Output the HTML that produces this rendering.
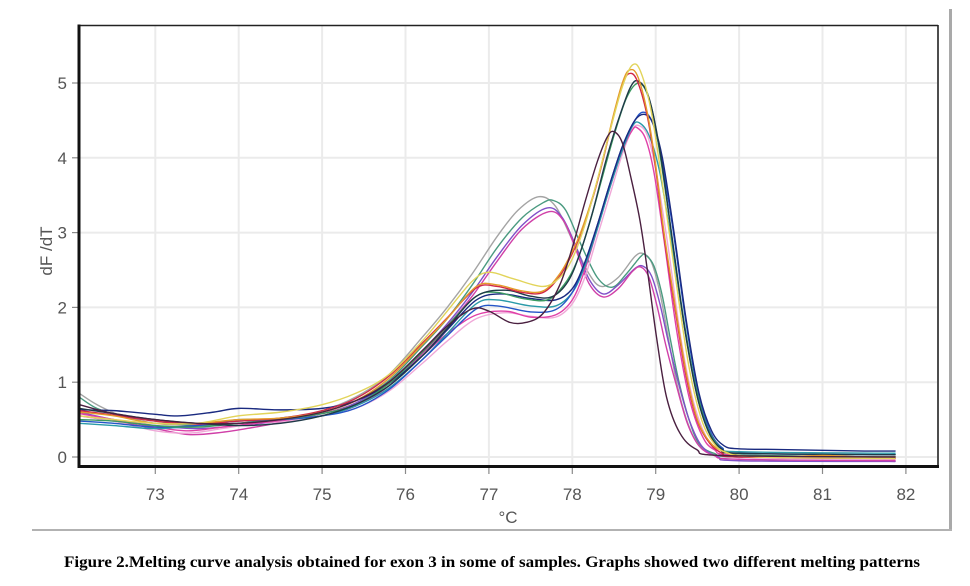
<!DOCTYPE html>
<html>
<head>
<meta charset="utf-8">
<style>
html,body{margin:0;padding:0;background:#fff;}
svg{display:block;}
</style>
</head>
<body>
<svg id="chart" width="970" height="586" viewBox="0 0 970 586" xmlns="http://www.w3.org/2000/svg">
<rect x="0" y="0" width="970" height="586" fill="#fff"/>
<!-- outer panel lines -->
<rect x="949" y="9" width="3" height="522" fill="#a9a9a9"/>
<rect x="32" y="529" width="920" height="2" fill="#b2b2b2"/>
<!-- grid -->
<g stroke="#ebebeb" stroke-width="2" fill="none">
<line x1="155.3" y1="26" x2="155.3" y2="465"/>
<line x1="238.7" y1="26" x2="238.7" y2="465"/>
<line x1="322.1" y1="26" x2="322.1" y2="465"/>
<line x1="405.5" y1="26" x2="405.5" y2="465"/>
<line x1="488.9" y1="26" x2="488.9" y2="465"/>
<line x1="572.3" y1="26" x2="572.3" y2="465"/>
<line x1="655.7" y1="26" x2="655.7" y2="465"/>
<line x1="739.1" y1="26" x2="739.1" y2="465"/>
<line x1="822.5" y1="26" x2="822.5" y2="465"/>
<line x1="905.9" y1="26" x2="905.9" y2="465"/>
<line x1="80" y1="83" x2="937" y2="83"/>
<line x1="80" y1="157.8" x2="937" y2="157.8"/>
<line x1="80" y1="232.6" x2="937" y2="232.6"/>
<line x1="80" y1="307.4" x2="937" y2="307.4"/>
<line x1="80" y1="382.2" x2="937" y2="382.2"/>
<line x1="80" y1="457" x2="937" y2="457"/>
</g>
<!-- ticks -->
<g stroke="#8a8a8a" stroke-width="1.2">
<line x1="72" y1="83" x2="78" y2="83"/>
<line x1="72" y1="157.8" x2="78" y2="157.8"/>
<line x1="72" y1="232.6" x2="78" y2="232.6"/>
<line x1="72" y1="307.4" x2="78" y2="307.4"/>
<line x1="72" y1="382.2" x2="78" y2="382.2"/>
<line x1="72" y1="457" x2="78" y2="457"/>
<line x1="155.3" y1="468" x2="155.3" y2="474"/>
<line x1="238.7" y1="468" x2="238.7" y2="474"/>
<line x1="322.1" y1="468" x2="322.1" y2="474"/>
<line x1="405.5" y1="468" x2="405.5" y2="474"/>
<line x1="488.9" y1="468" x2="488.9" y2="474"/>
<line x1="572.3" y1="468" x2="572.3" y2="474"/>
<line x1="655.7" y1="468" x2="655.7" y2="474"/>
<line x1="739.1" y1="468" x2="739.1" y2="474"/>
<line x1="822.5" y1="468" x2="822.5" y2="474"/>
<line x1="905.9" y1="468" x2="905.9" y2="474"/>
</g>
<g id="curves" fill="none" stroke-width="1.4" stroke-linejoin="round" stroke-linecap="round"></g>
<!-- frame -->
<line x1="79" y1="25.5" x2="938" y2="25.5" stroke="#222" stroke-width="1.6"/>
<line x1="938" y1="25" x2="938" y2="467" stroke="#222" stroke-width="1.6"/>
<line x1="79" y1="24.5" x2="79" y2="468" stroke="#111" stroke-width="3"/>
<line x1="77.5" y1="466.5" x2="939" y2="466.5" stroke="#111" stroke-width="3"/>
<!-- labels -->
<g font-family="Liberation Sans, Arial, sans-serif" font-size="17" fill="#555">
<text x="67" y="89" text-anchor="end">5</text>
<text x="67" y="163.8" text-anchor="end">4</text>
<text x="67" y="238.6" text-anchor="end">3</text>
<text x="67" y="313.4" text-anchor="end">2</text>
<text x="67" y="388.2" text-anchor="end">1</text>
<text x="67" y="463" text-anchor="end">0</text>
<text x="155.3" y="500" text-anchor="middle">73</text>
<text x="238.7" y="500" text-anchor="middle">74</text>
<text x="322.1" y="500" text-anchor="middle">75</text>
<text x="405.5" y="500" text-anchor="middle">76</text>
<text x="488.9" y="500" text-anchor="middle">77</text>
<text x="572.3" y="500" text-anchor="middle">78</text>
<text x="655.7" y="500" text-anchor="middle">79</text>
<text x="739.1" y="500" text-anchor="middle">80</text>
<text x="822.5" y="500" text-anchor="middle">81</text>
<text x="905.9" y="500" text-anchor="middle">82</text>
<text x="508" y="523" text-anchor="middle">°C</text>
<text x="0" y="0" text-anchor="middle" transform="translate(52,251) rotate(-90)">dF /dT</text>
</g>
<text x="64" y="567" font-family="Liberation Serif, 'Times New Roman', serif" font-weight="bold" font-size="16" fill="#000" textLength="856" lengthAdjust="spacingAndGlyphs">Figure 2.Melting curve analysis obtained for exon 3 in some of samples. Graphs showed two different melting patterns</text>
</svg>
<script>
(function(){
function X(t){return 155.3+(t-73)*83.4;}
function Y(v){return 457-74.8*v;}
var curves=[
// group B (double peak)
["#a4a4a4",[[72.09,0.85],[72.3,0.7],[72.6,0.55],[73,0.45],[73.5,0.42],[74,0.45],[74.5,0.5],[75,0.62],[75.4,0.8],[75.8,1.1],[76.2,1.6],[76.5,2.0],[76.8,2.45],[77.1,2.95],[77.35,3.3],[77.6,3.48],[77.8,3.35],[78.0,2.9],[78.2,2.45],[78.35,2.28],[78.55,2.4],[78.75,2.68],[78.85,2.72],[78.95,2.6],[79.05,2.2],[79.15,1.6],[79.25,1.0],[79.37,0.5],[79.5,0.18],[79.65,0.06],[80,0.0],[81.87,-0.02]]],
["#4a9a80",[[72.09,0.8],[72.3,0.65],[72.6,0.55],[73,0.48],[73.5,0.42],[74,0.45],[74.5,0.52],[75,0.6],[75.4,0.75],[75.8,1.02],[76.2,1.48],[76.5,1.85],[76.8,2.3],[77.1,2.8],[77.4,3.2],[77.65,3.4],[77.77,3.43],[77.92,3.3],[78.1,2.85],[78.3,2.4],[78.48,2.27],[78.65,2.45],[78.82,2.68],[78.88,2.7],[78.98,2.55],[79.08,2.15],[79.18,1.55],[79.28,1.0],[79.4,0.5],[79.52,0.18],[79.7,0.05],[80,0.0],[81.87,0.0]]],
["#8050c8",[[72.09,0.6],[72.5,0.5],[73,0.42],[73.5,0.38],[74,0.42],[74.5,0.48],[75,0.58],[75.4,0.72],[75.8,1.0],[76.2,1.42],[76.5,1.78],[76.8,2.2],[77.1,2.68],[77.4,3.1],[77.7,3.33],[77.88,3.2],[78.05,2.8],[78.2,2.38],[78.37,2.18],[78.55,2.3],[78.75,2.52],[78.85,2.55],[78.95,2.42],[79.05,2.05],[79.15,1.55],[79.27,1.0],[79.4,0.5],[79.55,0.15],[79.75,0.0],[80,-0.05],[81.87,-0.06]]],
["#d040a8",[[72.09,0.55],[72.5,0.48],[73,0.38],[73.4,0.3],[73.8,0.33],[74.2,0.4],[74.6,0.48],[75,0.55],[75.4,0.68],[75.8,0.95],[76.2,1.38],[76.5,1.75],[76.8,2.15],[77.1,2.62],[77.4,3.05],[77.72,3.28],[77.9,3.15],[78.05,2.75],[78.2,2.32],[78.37,2.14],[78.55,2.25],[78.72,2.48],[78.82,2.54],[78.92,2.4],[79.02,2.0],[79.12,1.5],[79.25,0.95],[79.38,0.45],[79.52,0.15],[79.7,0.02],[80,-0.03],[81.87,-0.05]]],
// group A
["#f0a8d8",[[72.09,0.55],[72.5,0.48],[73,0.35],[73.4,0.32],[73.8,0.38],[74.2,0.45],[74.6,0.48],[75,0.55],[75.4,0.65],[75.8,0.88],[76.2,1.25],[76.5,1.55],[76.85,1.85],[77.2,1.93],[77.5,1.88],[77.8,1.87],[78.0,2.05],[78.15,2.4],[78.3,2.95],[78.45,3.5],[78.6,4.05],[78.72,4.38],[78.8,4.43],[78.9,4.3],[79.0,3.85],[79.15,2.8],[79.3,1.6],[79.45,0.75],[79.6,0.28],[79.75,0.08],[80,0.0],[81.87,-0.03]]],
["#e040a8",[[72.09,0.58],[72.5,0.5],[73,0.4],[73.4,0.35],[73.8,0.4],[74.2,0.45],[74.6,0.5],[75,0.58],[75.4,0.7],[75.8,0.95],[76.2,1.35],[76.5,1.65],[76.85,1.9],[77.2,1.95],[77.5,1.87],[77.8,1.9],[78.0,2.1],[78.15,2.5],[78.3,3.05],[78.45,3.6],[78.6,4.1],[78.72,4.37],[78.78,4.4],[78.88,4.25],[78.98,3.8],[79.1,2.9],[79.25,1.7],[79.4,0.8],[79.55,0.3],[79.7,0.1],[80,0.02],[81.87,-0.02]]],
["#2a9aa8",[[72.09,0.45],[72.5,0.42],[73,0.38],[73.5,0.42],[74,0.5],[74.5,0.5],[75,0.55],[75.4,0.68],[75.8,0.92],[76.2,1.3],[76.5,1.65],[76.85,2.05],[77.1,2.1],[77.5,2.02],[77.8,2.02],[78.0,2.2],[78.15,2.55],[78.3,3.05],[78.45,3.6],[78.6,4.1],[78.72,4.42],[78.8,4.47],[78.92,4.3],[79.05,3.8],[79.2,2.8],[79.35,1.7],[79.5,0.8],[79.65,0.3],[79.8,0.12],[80,0.07],[81.87,0.05]]],
["#2555c8",[[72.09,0.48],[72.5,0.45],[73,0.4],[73.5,0.42],[74,0.48],[74.5,0.5],[75,0.55],[75.4,0.65],[75.8,0.9],[76.2,1.3],[76.5,1.62],[76.85,1.98],[77.1,2.02],[77.5,1.94],[77.8,1.97],[78.0,2.2],[78.15,2.6],[78.3,3.1],[78.45,3.65],[78.6,4.15],[78.75,4.5],[78.85,4.61],[78.95,4.5],[79.05,4.1],[79.2,3.1],[79.35,1.9],[79.5,0.9],[79.65,0.35],[79.8,0.12],[80,0.05],[81.87,0.03]]],
["#1a2a80",[[72.09,0.63],[72.5,0.62],[73,0.57],[73.3,0.55],[73.7,0.6],[74,0.65],[74.5,0.63],[75,0.65],[75.4,0.75],[75.8,0.98],[76.2,1.35],[76.5,1.7],[76.85,2.1],[77.15,2.18],[77.5,2.12],[77.8,2.1],[78.0,2.25],[78.15,2.6],[78.3,3.1],[78.45,3.65],[78.6,4.15],[78.75,4.5],[78.87,4.58],[78.97,4.45],[79.08,4.0],[79.22,3.0],[79.37,1.8],[79.52,0.85],[79.67,0.35],[79.82,0.15],[80,0.11],[80.5,0.1],[81,0.09],[81.5,0.08],[81.87,0.08]]],
["#3a9a60",[[72.09,0.5],[72.5,0.48],[73,0.42],[73.5,0.4],[74,0.45],[74.5,0.5],[75,0.58],[75.4,0.7],[75.8,0.98],[76.2,1.4],[76.5,1.75],[76.85,2.15],[77.1,2.2],[77.4,2.12],[77.7,2.1],[77.9,2.3],[78.05,2.6],[78.2,3.1],[78.35,3.7],[78.5,4.3],[78.65,4.8],[78.79,5.0],[78.9,4.85],[79.0,4.4],[79.15,3.3],[79.3,2.1],[79.45,1.1],[79.6,0.45],[79.75,0.15],[79.9,0.05],[80.2,0.02],[81.87,0.0]]],
["#1f3a48",[[72.09,0.65],[72.5,0.58],[73,0.5],[73.5,0.45],[74,0.42],[74.5,0.45],[75,0.55],[75.4,0.7],[75.8,0.95],[76.2,1.35],[76.5,1.72],[76.85,2.15],[77.2,2.23],[77.5,2.15],[77.75,2.14],[77.95,2.35],[78.1,2.75],[78.25,3.3],[78.4,3.95],[78.55,4.5],[78.7,4.95],[78.8,5.02],[78.92,4.8],[79.05,4.1],[79.2,2.9],[79.35,1.7],[79.5,0.8],[79.65,0.3],[79.8,0.1],[80,0.05],[81.87,0.03]]],
["#d02848",[[72.09,0.62],[72.5,0.56],[73,0.48],[73.5,0.44],[74,0.48],[74.5,0.52],[75,0.62],[75.4,0.78],[75.8,1.08],[76.2,1.52],[76.5,1.86],[76.85,2.26],[77.1,2.28],[77.4,2.2],[77.65,2.2],[77.85,2.42],[78.0,2.72],[78.1,2.98],[78.25,3.48],[78.37,3.98],[78.5,4.58],[78.6,4.96],[78.67,5.12],[78.77,5.05],[78.9,4.55],[79.0,3.85],[79.1,2.95],[79.25,1.85],[79.37,1.05],[79.5,0.48],[79.65,0.18],[79.8,0.05],[80,0.0],[81.87,-0.02]]],
["#e49a2a",[[72.09,0.6],[72.5,0.55],[73,0.45],[73.5,0.45],[74,0.5],[74.5,0.52],[75,0.6],[75.4,0.75],[75.8,1.05],[76.2,1.5],[76.5,1.85],[76.85,2.28],[77.1,2.3],[77.4,2.22],[77.65,2.22],[77.85,2.45],[78.0,2.75],[78.1,3.0],[78.25,3.5],[78.37,4.0],[78.5,4.6],[78.6,5.0],[78.68,5.17],[78.78,5.1],[78.9,4.6],[79.0,3.9],[79.1,3.0],[79.25,1.9],[79.37,1.1],[79.5,0.5],[79.65,0.2],[79.8,0.08],[80,0.02],[80.5,0.0],[81,0.02],[81.5,0.0],[81.87,0.0]]],
["#e2d45a",[[72.09,0.55],[72.5,0.5],[73,0.45],[73.5,0.45],[74,0.55],[74.5,0.6],[75,0.7],[75.4,0.85],[75.8,1.1],[76.2,1.55],[76.5,1.95],[76.8,2.35],[77.0,2.47],[77.3,2.38],[77.65,2.28],[77.85,2.4],[78.0,2.65],[78.15,3.1],[78.3,3.7],[78.45,4.35],[78.6,4.95],[78.72,5.24],[78.82,5.15],[78.95,4.6],[79.1,3.5],[79.25,2.3],[79.4,1.2],[79.55,0.5],[79.7,0.18],[79.85,0.06],[80.2,0.0],[81.87,-0.02]]],
["#4a2040",[[72.09,0.7],[72.5,0.58],[73,0.5],[73.5,0.45],[74,0.45],[74.5,0.5],[75,0.6],[75.4,0.75],[75.8,1.0],[76.2,1.42],[76.5,1.75],[76.8,1.98],[77.0,1.95],[77.25,1.8],[77.45,1.8],[77.65,1.92],[77.85,2.3],[78.0,2.8],[78.15,3.4],[78.3,3.95],[78.42,4.28],[78.5,4.35],[78.6,4.2],[78.7,3.75],[78.81,3.17],[78.9,2.5],[79.01,1.6],[79.13,0.8],[79.29,0.32],[79.49,0.1],[79.8,0.02],[81.87,0.0]]]
];
var g=document.getElementById('curves');
var ns="http://www.w3.org/2000/svg";
curves.forEach(function(c){
  var p=c[1].map(function(q){return [X(q[0]),Y(q[1])];});
  var n=p.length;
  var d="M"+p[0][0].toFixed(2)+","+p[0][1].toFixed(2);
  for(var i=0;i<n-1;i++){
    var p0=p[i>0?i-1:0],p1=p[i],p2=p[i+1],p3=p[i+2<n?i+2:n-1];
    var c1x=p1[0]+(p2[0]-p0[0])/6,c1y=p1[1]+(p2[1]-p0[1])/6;
    var c2x=p2[0]-(p3[0]-p1[0])/6,c2y=p2[1]-(p3[1]-p1[1])/6;
    d+="C"+c1x.toFixed(2)+","+c1y.toFixed(2)+" "+c2x.toFixed(2)+","+c2y.toFixed(2)+" "+p2[0].toFixed(2)+","+p2[1].toFixed(2);
  }
  var el=document.createElementNS(ns,"path");
  el.setAttribute("d",d);
  el.setAttribute("stroke",c[0]);
  g.appendChild(el);
});
})();
</script>
</body>
</html>
